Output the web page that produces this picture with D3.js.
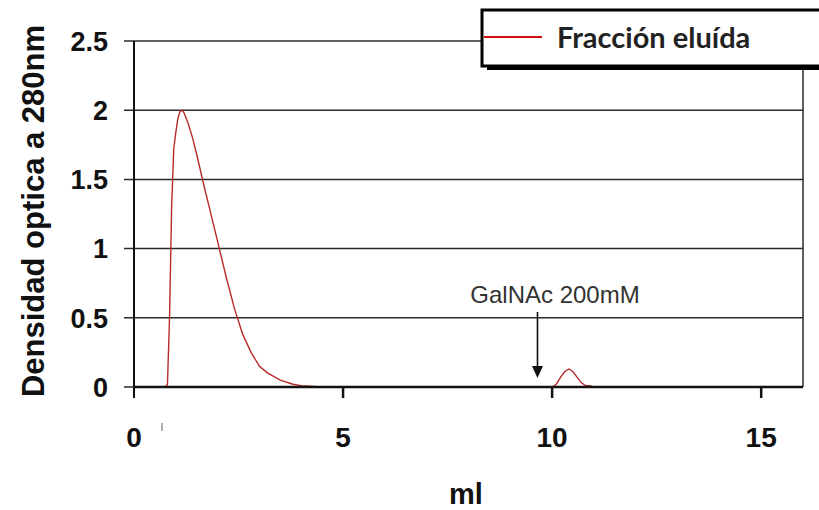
<!DOCTYPE html>
<html><head><meta charset="utf-8">
<script src="https://cdn.jsdelivr.net/npm/d3@7"></script>
<style>body{margin:0;background:#fff}svg{display:block}</style>
</head><body>
<svg id="c" width="819" height="510"></svg>
<script>
const volumeMl = [0,0.5,0.75,0.8,0.85,0.9,0.95,1.0,1.05,1.1,1.15,1.2,1.3,1.4,1.5,1.6,1.7,1.8,2.0,2.2,2.4,2.6,2.8,3.0,3.2,3.5,3.8,4.0,4.5,6,8,9.5,10.0,10.1,10.2,10.3,10.4,10.5,10.6,10.7,10.8,10.9,11.0,13,15.5];
const absorbance = [0,0,0,0.02,0.5,1.3,1.72,1.84,1.94,1.99,2.0,1.98,1.9,1.8,1.68,1.55,1.42,1.3,1.05,0.8,0.57,0.38,0.25,0.15,0.1,0.05,0.02,0.01,0,0,0,0,0,0.02,0.07,0.11,0.13,0.11,0.07,0.03,0.01,0.01,0,0,0];
const xTicks = [0,5,10,15];
const yTicks = [0,0.5,1,1.5,2,2.5];
const seriesName = "Fracción eluída";
const annotation = {label:"GalNAc 200mM", x:9.65};

const svg = d3.select("#c");
const x = d3.scaleLinear().domain([0,16]).range([134,803]);
const y = d3.scaleLinear().domain([0,2.5]).range([387,41]);
const F = "Liberation Sans, Arial, sans-serif";

// gridlines with left tick stubs
svg.append("g").selectAll("line").data(yTicks).join("line")
  .attr("x1",124).attr("x2",x(16)).attr("y1",d=>y(d)).attr("y2",d=>y(d))
  .attr("stroke","#2a2a2a").attr("stroke-width",1.5);
// right border
svg.append("line").attr("x1",x(16)).attr("x2",x(16)).attr("y1",y(2.5)).attr("y2",y(0))
  .attr("stroke","#2a2a2a").attr("stroke-width",1.5);
// y axis line
svg.append("line").attr("x1",x(0)).attr("x2",x(0)).attr("y1",y(2.5)).attr("y2",y(0)+11)
  .attr("stroke","#111").attr("stroke-width",2);
// y tick labels
svg.append("g").selectAll("text").data(yTicks).join("text")
  .attr("x",108).attr("y",d=>y(d)).attr("dy","0.36em").attr("text-anchor","end")
  .attr("font-family",F).attr("font-weight","bold").attr("font-size",27)
  .attr("fill","#111").text(d=>d);

// curve
const line = d3.line().x((d,i)=>x(volumeMl[i])).y(d=>y(d));
svg.append("path").datum(absorbance).attr("d",line).attr("fill","none")
  .attr("stroke","#b82a2a").attr("stroke-width",1.4);

// x axis line
svg.append("line").attr("x1",x(0)).attr("x2",x(16)).attr("y1",y(0)).attr("y2",y(0))
  .attr("stroke","#111").attr("stroke-width",2.5);
// x ticks
svg.append("g").selectAll("line").data(xTicks.slice(1)).join("line")
  .attr("x1",d=>x(d)).attr("x2",d=>x(d)).attr("y1",y(0)).attr("y2",y(0)+11)
  .attr("stroke","#111").attr("stroke-width",2.5);
svg.append("g").selectAll("text").data(xTicks).join("text")
  .attr("x",d=>x(d)).attr("y",447).attr("text-anchor","middle")
  .attr("font-family",F).attr("font-weight","bold").attr("font-size",28)
  .attr("fill","#111").text(d=>d);
// small stray mark near 0
svg.append("line").attr("x1",162).attr("x2",162).attr("y1",423).attr("y2",431)
  .attr("stroke","#999").attr("stroke-width",1.5);

// axis titles
svg.append("text").attr("x",466).attr("y",504).attr("text-anchor","middle")
  .attr("font-family",F).attr("font-weight","bold").attr("font-size",29)
  .attr("fill","#111").text("ml");
svg.append("text").attr("transform","translate(44,211) rotate(-90)").attr("text-anchor","middle")
  .attr("font-family",F).attr("font-weight","bold").attr("font-size",31)
  .attr("fill","#111").text("Densidad optica a 280nm");

// annotation
svg.append("text").attr("x",555).attr("y",303).attr("text-anchor","middle")
  .attr("font-family",F).attr("font-size",24)
  .attr("fill","#333").text(annotation.label);
svg.append("line").attr("x1",x(annotation.x)).attr("x2",x(annotation.x)).attr("y1",312).attr("y2",368)
  .attr("stroke","#111").attr("stroke-width",1.6);
svg.append("path").attr("d",`M${x(annotation.x)-5.5},366 L${x(annotation.x)+5.5},366 L${x(annotation.x)},378 Z`).attr("fill","#111");

// legend
const lg = svg.append("g");
lg.append("rect").attr("x",487).attr("y",14).attr("width",340).attr("height",56).attr("fill","#000");
lg.append("rect").attr("x",482).attr("y",10).attr("width",340).attr("height",56)
  .attr("fill","#fff").attr("stroke","#000").attr("stroke-width",3);
lg.append("line").attr("x1",484).attr("x2",542).attr("y1",37).attr("y2",37)
  .attr("stroke","#d01010").attr("stroke-width",2);
lg.append("text").attr("x",557).attr("y",48).attr("font-family","Lato, Open Sans, sans-serif")
  .attr("font-weight","bold").attr("font-size",29).attr("fill","#222").text(seriesName);
</script>
</body></html>
